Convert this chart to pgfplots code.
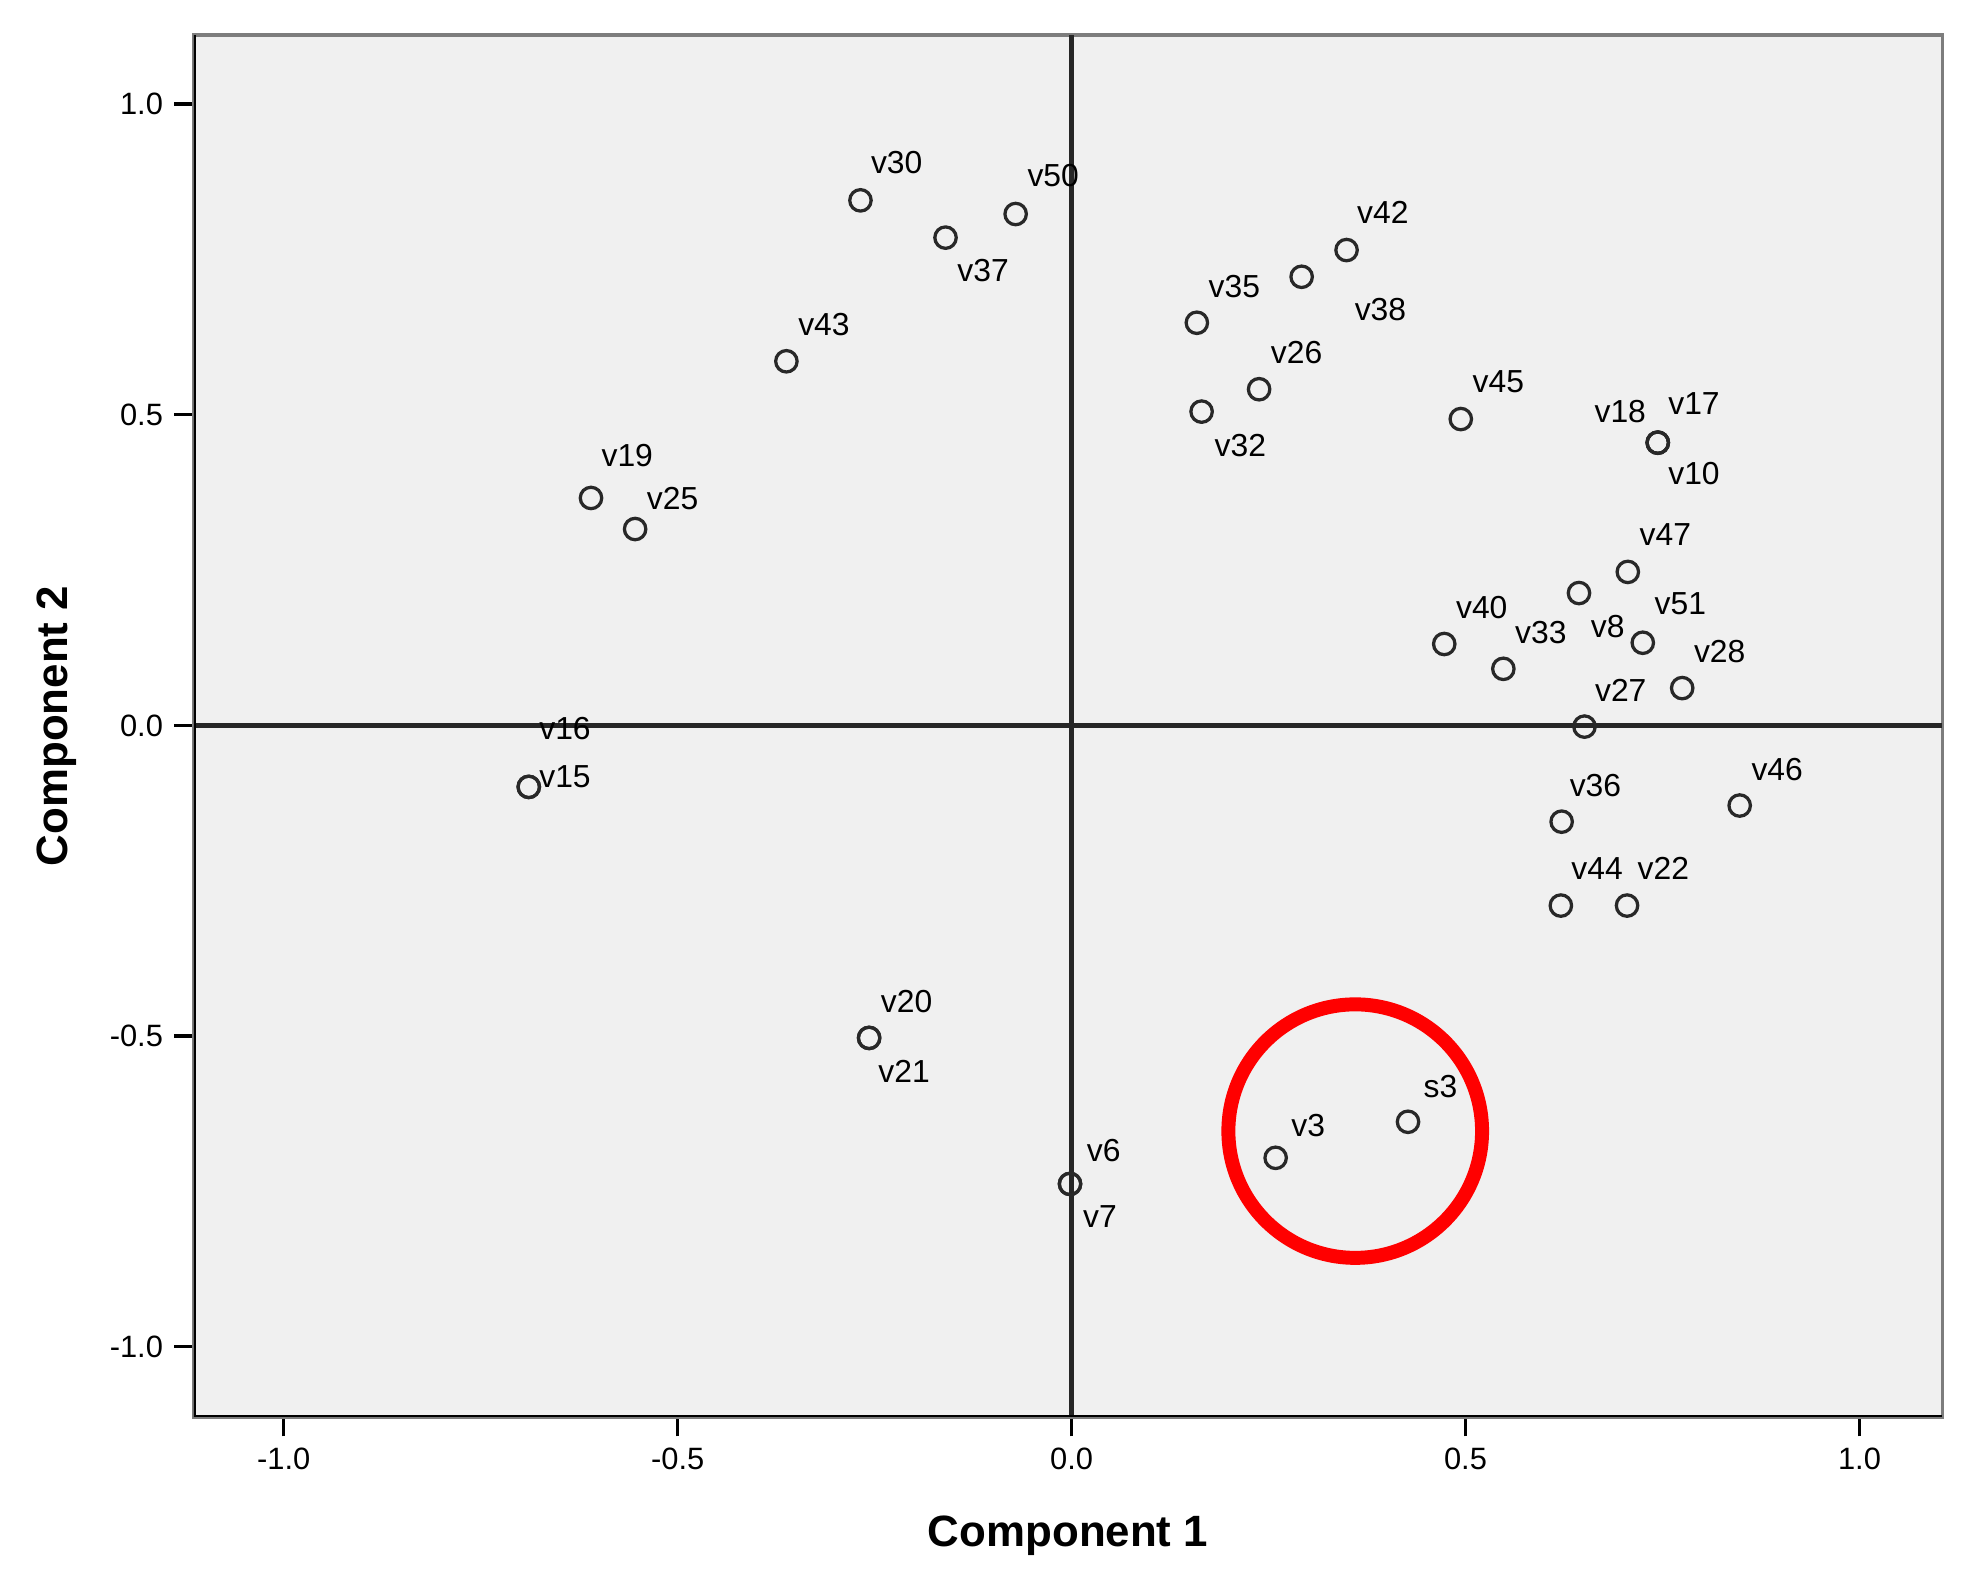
\documentclass[border=0pt]{standalone}
\usepackage{fontspec}
\setmainfont{Liberation Sans}
\usepackage{pgfplots}
\pgfplotsset{compat=1.18}

\definecolor{panel}{RGB}{240,240,240}
\definecolor{markc}{RGB}{40,40,40}
\definecolor{frameg}{RGB}{125,125,125}

\begin{document}
\begin{tikzpicture}
\begin{axis}[
    name=ax,
    scale only axis,
    width=538.2pt, height=425.4pt,
    xmin=-1.114, xmax=1.105,
    ymin=-1.113, ymax=1.111,
    axis background/.style={fill=panel},
    axis line style={draw=frameg, line width=1pt},
    xtick={-1,-0.5,0,0.5,1},
    ytick={-1,-0.5,0,0.5,1},
    tick pos=left,
    tick align=outside,
    major tick length=6pt,
    tick style={black, line width=1pt},
    /pgf/number format/fixed,
    /pgf/number format/fixed zerofill,
    /pgf/number format/precision=1,
    /pgf/number format/assume math mode=true,
    ticklabel style={font=\fontsize{9.5}{10}\selectfont},
    xlabel={\textbf{Component 1}},
    ylabel={\textbf{Component 2}},
    every axis x label/.style={at={(axis description cs:0.5,-0.086)}, anchor=center,
        font=\fontsize{13.5}{16}\selectfont\bfseries},
    every axis y label/.style={at={(axis description cs:-0.0787,0.5)}, rotate=90, anchor=center,
        font=\fontsize{13.5}{16}\selectfont\bfseries},
]
% reference lines through the origin
\addplot[black!85, line width=1.4pt] coordinates {(0,-1.113) (0,1.111)};
\addplot[black!85, line width=1.4pt] coordinates {(-1.114,0) (1.105,0)};

% component loadings; dx, dy = label offset in screen px (dy downwards)
\addplot[only marks, mark=o, mark size=3.3pt,
    mark options={draw=markc, line width=1pt},
    point meta=explicit symbolic,
    visualization depends on={value \thisrow{dx}\as\labdx},
    visualization depends on={value \thisrow{dy}\as\labdy},
    nodes near coords,
    nodes near coords style={anchor=center, inner sep=0pt,
        font=\fontsize{9.8}{11}\selectfont,
        xshift={\labdx*0.385pt}, yshift={-\labdy*0.385pt}}]
    table[x=x, y=y, meta=lab] {
x      y      dx   dy   lab
-0.268  0.845  29  -30  v30
-0.071  0.823  30  -31  v50
-0.160  0.785  30   26  v37
-0.362  0.586  30  -29  v43
-0.610  0.366  29  -34  v19
-0.554  0.316  30  -24  v25
-0.689 -0.099  29  -47  v16
-0.689 -0.099  29   -8  v15
-0.257 -0.503  30  -29  v20
-0.257 -0.503  28   27  v21
-0.002 -0.738  27  -27  v6
-0.002 -0.738  24   26  v7
 0.259 -0.696  26  -26  v3
 0.427 -0.638  26  -28  s3
 0.159  0.648  30  -29  v35
 0.349  0.765  29  -30  v42
 0.292  0.722  63   26  v38
 0.238  0.541  30  -29  v26
 0.165  0.505  31   27  v32
 0.494  0.493  30  -30  v45
 0.744  0.455 -30  -25  v18
 0.744  0.455  29  -31  v17
 0.744  0.455  29   25  v10
 0.706  0.247  30  -30  v47
 0.644  0.213  23   27  v8
 0.473  0.131  30  -29  v40
 0.548  0.091  30  -29  v33
 0.725  0.133  30  -31  v51
 0.775  0.060  30  -29  v28
 0.651 -0.002  29  -29  v27
 0.622 -0.155  27  -29  v36
 0.848 -0.129  30  -29  v46
 0.621 -0.290  29  -30  v44
 0.705 -0.290  29  -30  v22
};

% red highlight ring
\draw[red, line width=4.3pt] (axis cs:0.360,-0.653) ellipse [x radius=0.161, y radius=0.204];

% left and bottom frame edges are black
\draw[black, line width=1.2pt] (rel axis cs:0,1) -- (rel axis cs:0,0) -- (rel axis cs:1,0);
\end{axis}
\pgfresetboundingbox
\path (ax.south west) ++(-59.7pt,-48.9pt);
\path (ax.north east) ++(5.8pt,10.8pt);
\end{tikzpicture}
\end{document}
